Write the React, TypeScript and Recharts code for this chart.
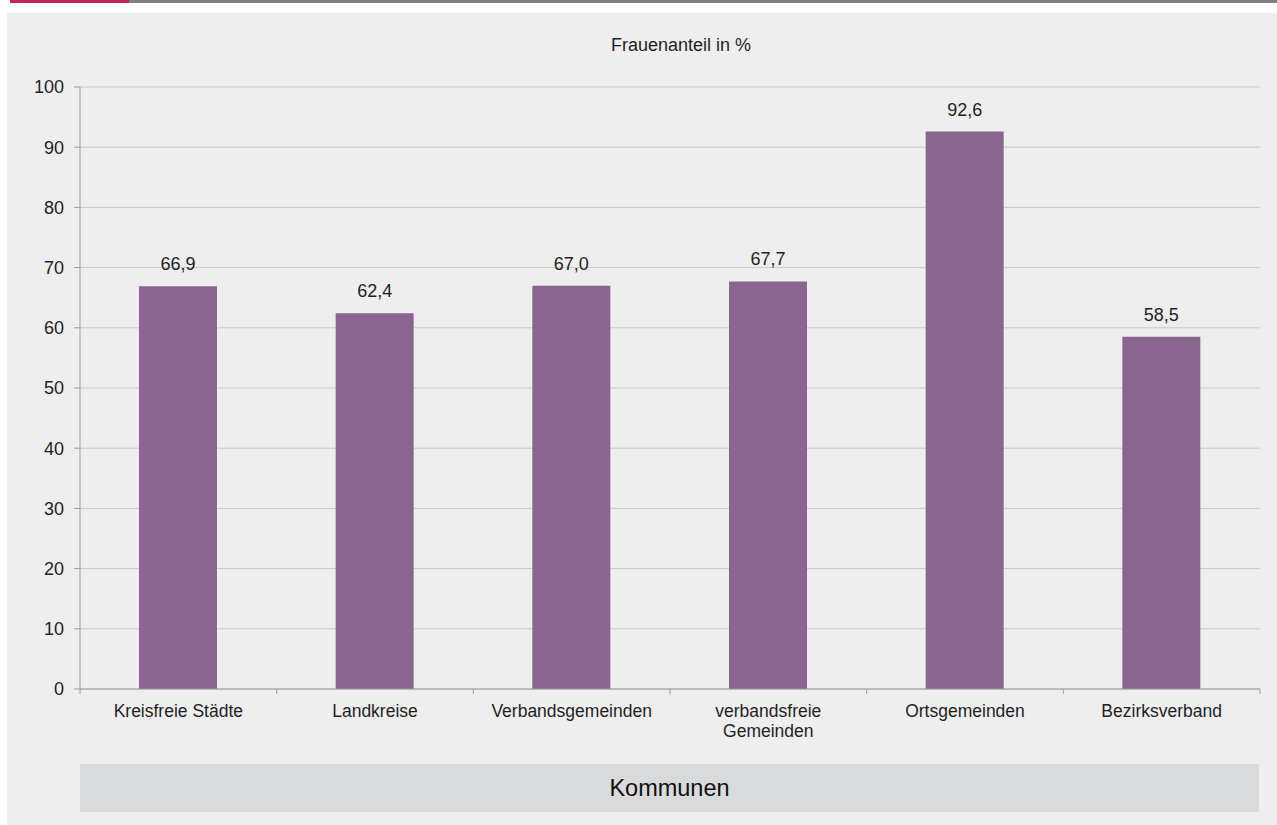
import React from "react";
import { BarChart, Bar, XAxis, YAxis, CartesianGrid, LabelList } from "recharts";

// Frauenanteil in % nach Kommunen
const categories = [
  "Kreisfreie Städte",
  "Landkreise",
  "Verbandsgemeinden",
  "verbandsfreie\nGemeinden",
  "Ortsgemeinden",
  "Bezirksverband",
];
const frauenanteil = [66.9, 62.4, 67.0, 67.7, 92.6, 58.5];
const yTicks = [0, 10, 20, 30, 40, 50, 60, 70, 80, 90, 100];

const FONT = '"Liberation Sans", Arial, Helvetica, sans-serif';
const BAR_COLOUR = "#8a6590";
const TEXT = "#1f1f1f";
const AXIS = "#9a9a9a";
const CAT_TICK_MARGIN = 16;

const data = categories.map((name, i) => ({ name, value: frauenanteil[i] }));

const fmt = (v: number) => v.toFixed(1).replace(".", ",");

// category label plus the small tick marks on the band boundaries
function CategoryTick(props: any) {
  const { x, y, payload, index, visibleTicksCount } = props;
  const lines = String(payload.value).split("\n");
  const half = payload.offset ?? 0;
  const axisY = y - CAT_TICK_MARGIN;
  const isLast = index === (visibleTicksCount ?? categories.length) - 1;
  return (
    <g>
      {half > 0 && <line x1={x - half} x2={x - half} y1={axisY} y2={axisY + 5} stroke={AXIS} />}
      {half > 0 && isLast && <line x1={x + half} x2={x + half} y1={axisY} y2={axisY + 5} stroke={AXIS} />}
      <text x={x} y={y} textAnchor="middle" fill={TEXT} fontSize={17.5} fontFamily={FONT}>
        {lines.map((l, i) => (
          <tspan key={i} x={x} dy={i === 0 ? "0.71em" : "1.1em"}>
            {l}
          </tspan>
        ))}
      </text>
    </g>
  );
}

export default function App() {
  return (
    <div style={{ position: "absolute", left: 0, top: 0, width: 1277, height: 825, background: "#fff", overflow: "hidden" }}>
      <div style={{ position: "absolute", left: 10, top: 0, width: 119, height: 3, background: "#c2284f" }} />
      <div style={{ position: "absolute", left: 129, top: 0, width: 1148, height: 3, background: "#808080" }} />
      <div style={{ position: "absolute", left: 7, top: 13, width: 1270, height: 812, background: "#edeeed" }} />
      <div
        style={{
          position: "absolute",
          left: 581,
          top: 35,
          width: 200,
          textAlign: "center",
          fontFamily: FONT,
          fontSize: 18,
          color: TEXT,
          whiteSpace: "pre",
        }}
      >
        Frauenanteil in %
      </div>
      <div
        style={{
          position: "absolute",
          left: 80,
          top: 764,
          width: 1179,
          height: 48,
          background: "#d9dadb",
          fontFamily: FONT,
          fontSize: 23.5,
          color: "#111",
          display: "flex",
          alignItems: "center",
          justifyContent: "center",
        }}
      >
        Kommunen
      </div>
      <div style={{ position: "absolute", left: 0, top: 0 }}>
        <BarChart
          width={1277}
          height={825}
          data={data}
          margin={{ top: 87, right: 17, left: 0, bottom: 96 }}
        >
          <CartesianGrid vertical={false} stroke="#c9c9c9" />
          <XAxis
            dataKey="name"
            height={40}
            stroke={AXIS}
            tickLine={false}
            tickSize={0}
            tickMargin={CAT_TICK_MARGIN}
            interval={0}
            tick={<CategoryTick />}
          />
          <YAxis
            domain={[0, 100]}
            ticks={yTicks}
            width={80}
            tickSize={6}
            tickMargin={10}
            stroke={AXIS}
            tick={{ fill: TEXT, fontSize: 18, fontFamily: FONT }}
          />
          <YAxis
            yAxisId="border"
            orientation="right"
            width={0}
            tick={false}
            tickLine={false}
            stroke="#b5b5b5"
          />
          <Bar dataKey="value" fill={BAR_COLOUR} barSize={78} isAnimationActive={false}>
            <LabelList
              dataKey="value"
              position="top"
              offset={16}
              formatter={(v: any) => fmt(Number(v))}
              style={{ fill: TEXT, fontSize: 18, fontFamily: FONT }}
            />
          </Bar>
        </BarChart>
      </div>
    </div>
  );
}
